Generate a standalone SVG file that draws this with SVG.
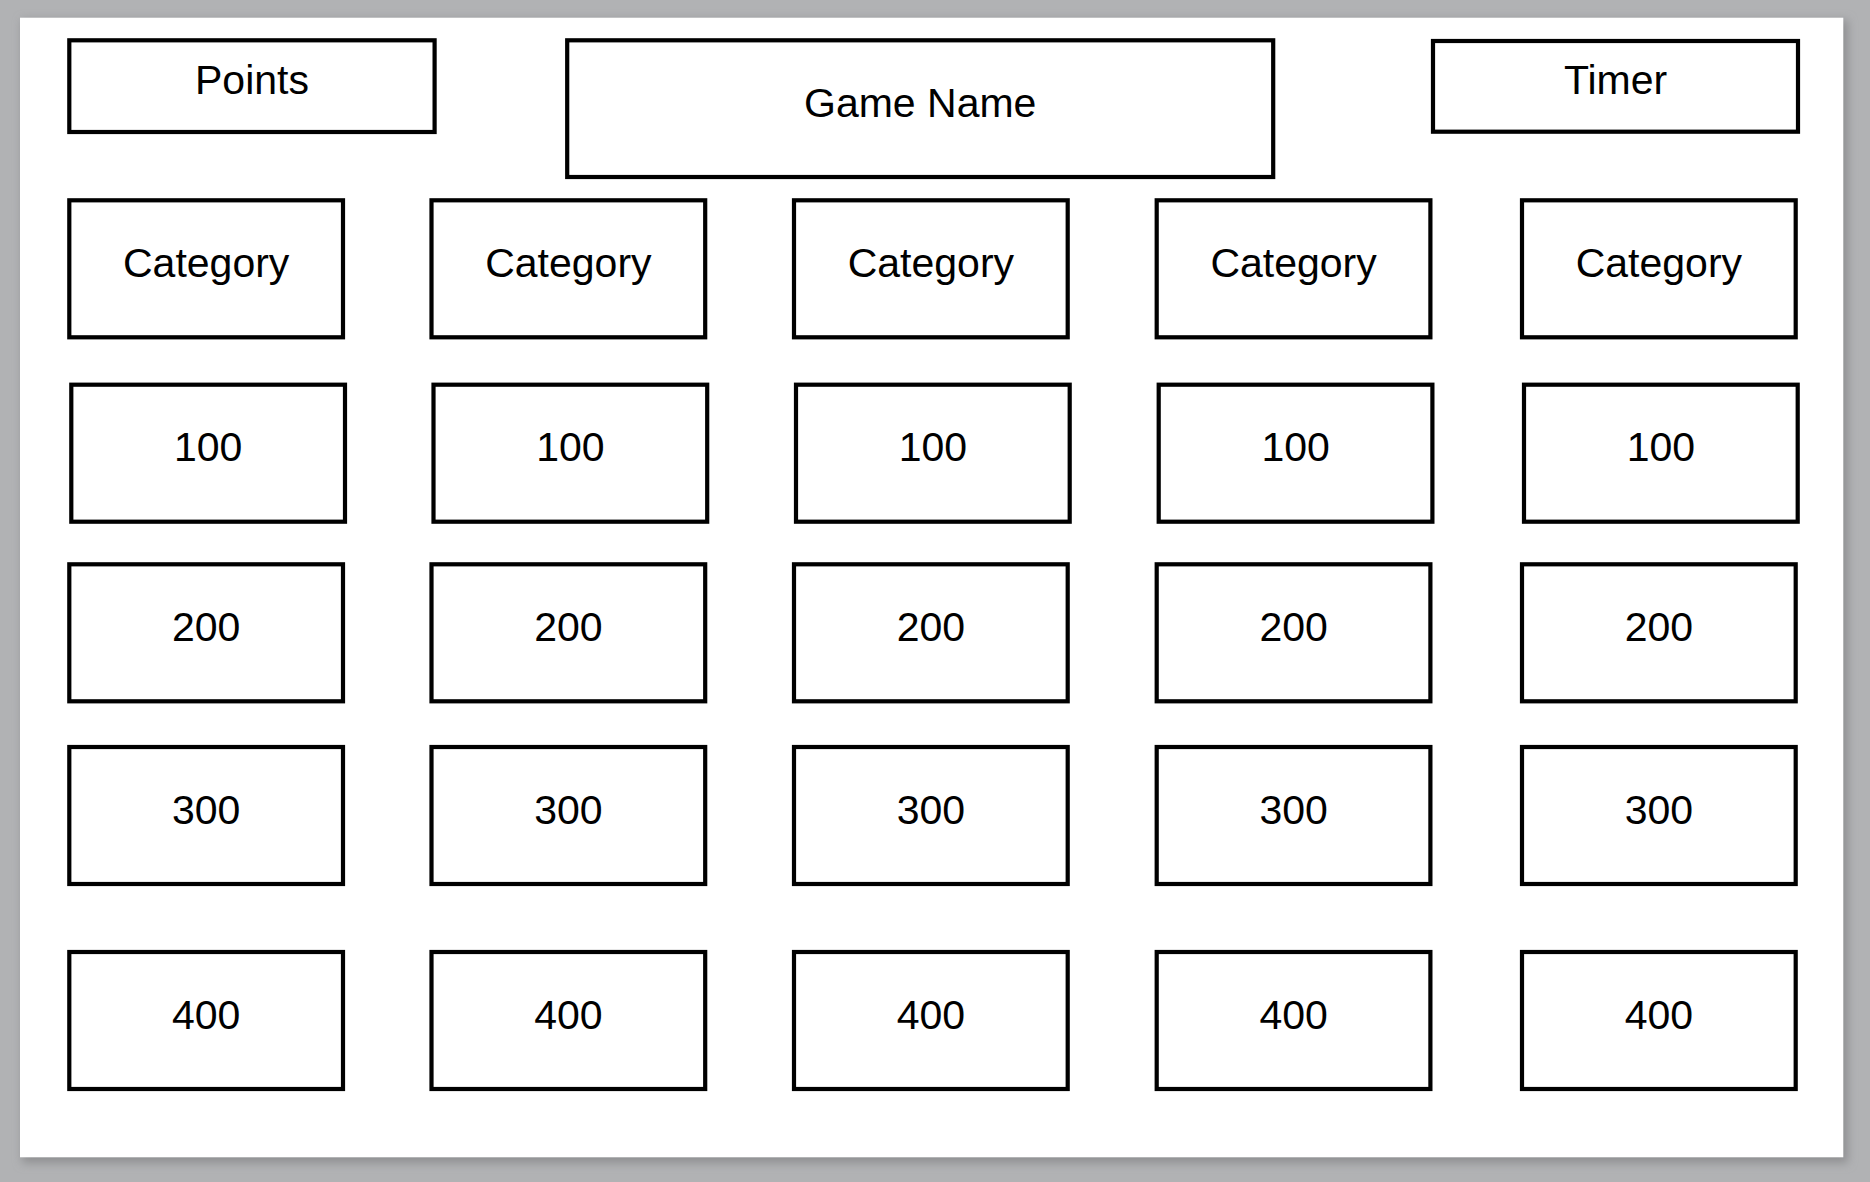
<svg xmlns="http://www.w3.org/2000/svg" width="1870" height="1182" viewBox="0 0 1870 1182">
<defs>
<filter id="sh" x="-5%" y="-5%" width="110%" height="110%"><feGaussianBlur stdDeviation="5"/></filter>
<style>
.b{fill:#fff;stroke:#000;stroke-width:4.2}
.t{font-family:"Liberation Sans",Arial,sans-serif;font-size:41px;fill:#000;text-anchor:middle}
</style>
</defs>
<rect width="1870" height="1182" fill="#b1b2b4"/>
<rect x="22" y="20" width="1826" height="1143" fill="#8f9092" filter="url(#sh)"/>
<rect x="20" y="17.7" width="1823.3" height="1139.6" fill="#fff"/>
<g id="points"><rect class="b" x="69.3" y="40.3" width="365.3" height="91.7"/><text class="t" x="252" y="94">Points</text></g>
<g id="gamename"><rect class="b" x="567.2" y="40.3" width="706" height="136.7"/><text class="t" x="920.2" y="116.7">Game Name</text></g>
<g id="timer"><rect class="b" x="1433" y="41" width="365" height="90.7"/><text class="t" x="1615.5" y="94">Timer</text></g>
<g id="cat1"><rect class="b" x="69.3" y="200.3" width="273.7" height="137"/><text class="t" x="206.2" y="276.8">Category</text></g>
<g id="cat2"><rect class="b" x="431.5" y="200.3" width="273.7" height="137"/><text class="t" x="568.4" y="276.8">Category</text></g>
<g id="cat3"><rect class="b" x="794" y="200.3" width="273.7" height="137"/><text class="t" x="930.9" y="276.8">Category</text></g>
<g id="cat4"><rect class="b" x="1156.7" y="200.3" width="273.7" height="137"/><text class="t" x="1293.6" y="276.8">Category</text></g>
<g id="cat5"><rect class="b" x="1522" y="200.3" width="273.7" height="137"/><text class="t" x="1658.9" y="276.8">Category</text></g>
<g id="r100c1"><rect class="b" x="71.3" y="384.7" width="273.7" height="137"/><text class="t" x="208.2" y="461.2">100</text></g>
<g id="r100c2"><rect class="b" x="433.5" y="384.7" width="273.7" height="137"/><text class="t" x="570.4" y="461.2">100</text></g>
<g id="r100c3"><rect class="b" x="796" y="384.7" width="273.7" height="137"/><text class="t" x="932.9" y="461.2">100</text></g>
<g id="r100c4"><rect class="b" x="1158.7" y="384.7" width="273.7" height="137"/><text class="t" x="1295.6" y="461.2">100</text></g>
<g id="r100c5"><rect class="b" x="1524" y="384.7" width="273.7" height="137"/><text class="t" x="1660.9" y="461.2">100</text></g>
<g id="r200c1"><rect class="b" x="69.3" y="564.3" width="273.7" height="137"/><text class="t" x="206.2" y="640.8">200</text></g>
<g id="r200c2"><rect class="b" x="431.5" y="564.3" width="273.7" height="137"/><text class="t" x="568.4" y="640.8">200</text></g>
<g id="r200c3"><rect class="b" x="794" y="564.3" width="273.7" height="137"/><text class="t" x="930.9" y="640.8">200</text></g>
<g id="r200c4"><rect class="b" x="1156.7" y="564.3" width="273.7" height="137"/><text class="t" x="1293.6" y="640.8">200</text></g>
<g id="r200c5"><rect class="b" x="1522" y="564.3" width="273.7" height="137"/><text class="t" x="1658.9" y="640.8">200</text></g>
<g id="r300c1"><rect class="b" x="69.3" y="747" width="273.7" height="137"/><text class="t" x="206.2" y="823.5">300</text></g>
<g id="r300c2"><rect class="b" x="431.5" y="747" width="273.7" height="137"/><text class="t" x="568.4" y="823.5">300</text></g>
<g id="r300c3"><rect class="b" x="794" y="747" width="273.7" height="137"/><text class="t" x="930.9" y="823.5">300</text></g>
<g id="r300c4"><rect class="b" x="1156.7" y="747" width="273.7" height="137"/><text class="t" x="1293.6" y="823.5">300</text></g>
<g id="r300c5"><rect class="b" x="1522" y="747" width="273.7" height="137"/><text class="t" x="1658.9" y="823.5">300</text></g>
<g id="r400c1"><rect class="b" x="69.3" y="952" width="273.7" height="137"/><text class="t" x="206.2" y="1028.5">400</text></g>
<g id="r400c2"><rect class="b" x="431.5" y="952" width="273.7" height="137"/><text class="t" x="568.4" y="1028.5">400</text></g>
<g id="r400c3"><rect class="b" x="794" y="952" width="273.7" height="137"/><text class="t" x="930.9" y="1028.5">400</text></g>
<g id="r400c4"><rect class="b" x="1156.7" y="952" width="273.7" height="137"/><text class="t" x="1293.6" y="1028.5">400</text></g>
<g id="r400c5"><rect class="b" x="1522" y="952" width="273.7" height="137"/><text class="t" x="1658.9" y="1028.5">400</text></g>
<g id="connectors"/>
</svg>
